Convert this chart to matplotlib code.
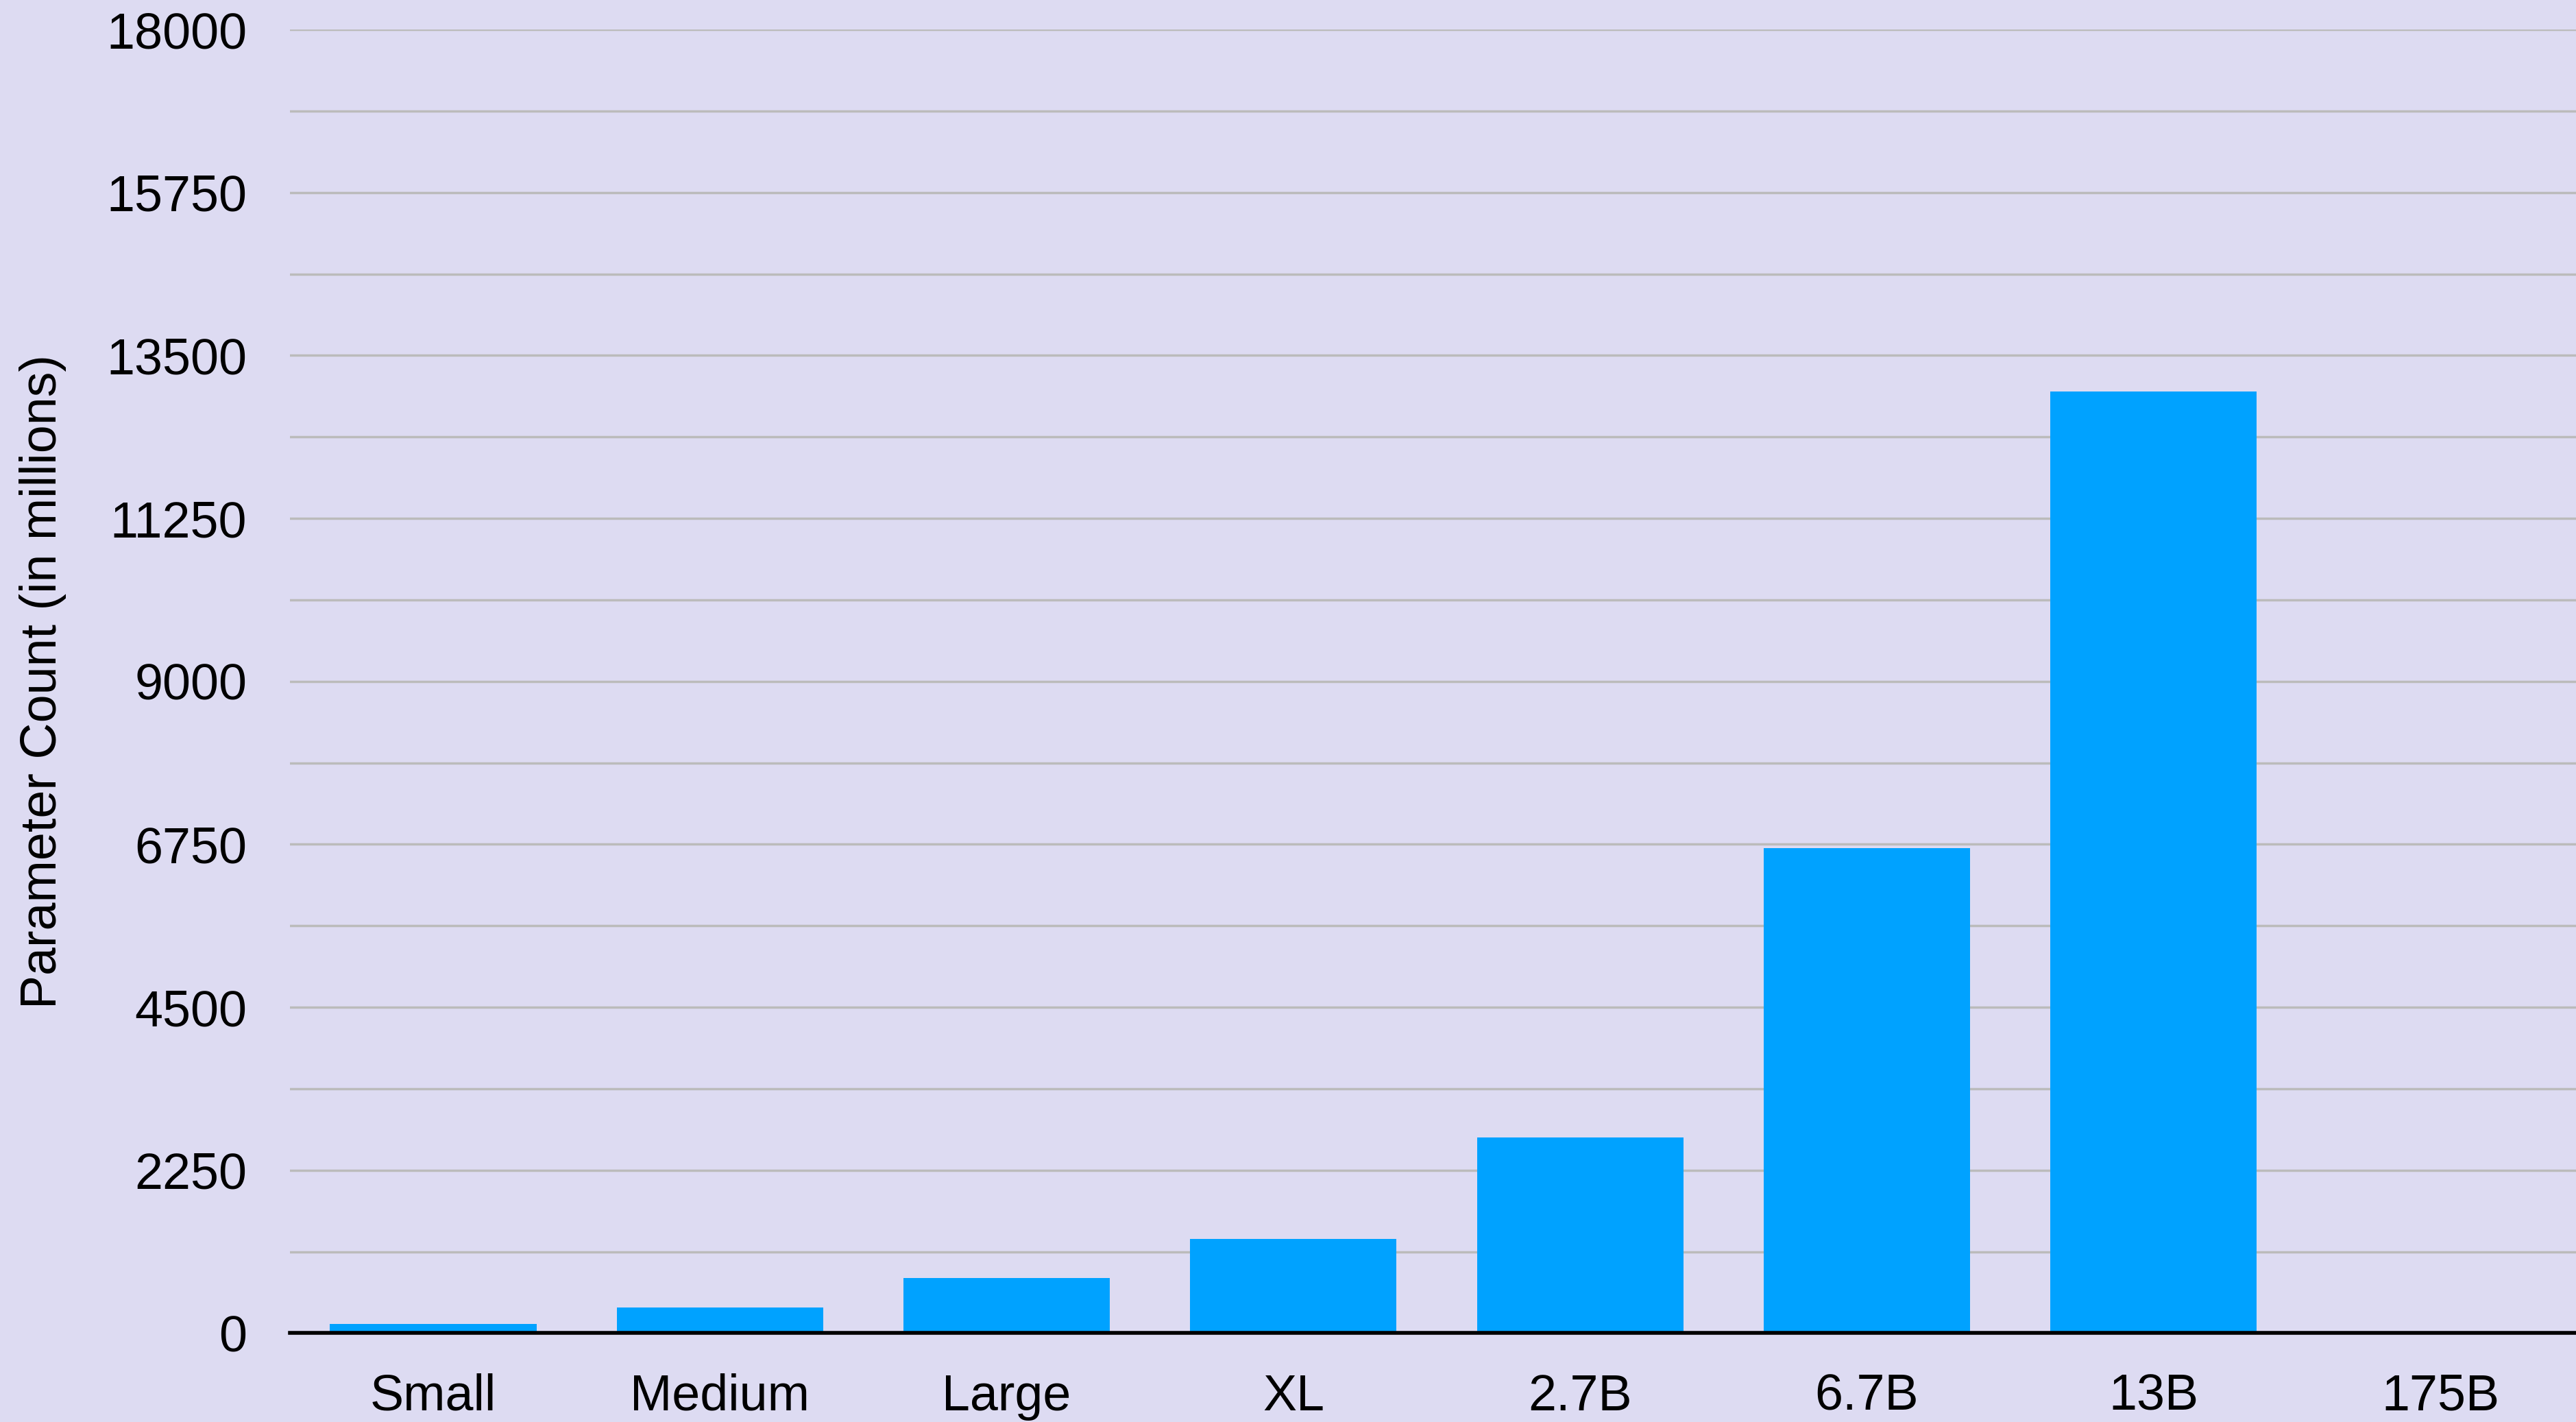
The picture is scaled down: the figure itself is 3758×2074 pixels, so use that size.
import numpy as np
import matplotlib.pyplot as plt
from matplotlib.ticker import MultipleLocator

models = ["Small", "Medium", "Large", "XL", "2.7B", "6.7B", "13B", "175B"]
params = [125, 350, 760, 1300, 2700, 6700, 13000, np.nan]  # 175B not drawn
yticks = [0, 2250, 4500, 6750, 9000, 11250, 13500, 15750, 18000]

bg = "#DDDBF2"
plt.rcParams['font.family'] = ['Liberation Sans', 'DejaVu Sans']

fig = plt.figure(figsize=(37.58, 20.74), dpi=100, facecolor=bg)
ax = fig.add_axes([0.1125, 0.0625, 0.8905, 0.9167], facecolor=bg)

x = np.arange(len(models))
ax.bar(x, params, width=0.72, color="#00A2FF", zorder=3)

ax.set_xlim(-0.5, len(models) - 0.5)
ax.set_ylim(0, 18000)
ax.set_yticks(yticks)
ax.set_yticklabels([str(v) for v in yticks])
ax.yaxis.set_minor_locator(MultipleLocator(1125))
ax.set_xticks(x)
ax.set_xticklabels(models)

ax.grid(axis="y", which="both", color="#BBBBBB", linewidth=2.5, zorder=0)
ax.tick_params(axis="both", which="both", length=0, labelsize=53)
ax.tick_params(axis="y", pad=45)
ax.tick_params(axis="x", pad=42)

for s in ["top", "right", "left"]:
    ax.spines[s].set_visible(False)
ax.spines["bottom"].set_color("black")
ax.spines["bottom"].set_linewidth(4)
ax.spines["bottom"].set_zorder(4)

ax.set_ylabel("Parameter Count (in millions)", fontsize=53, labelpad=42)

fig.savefig("out.png", dpi=100, facecolor=bg)
